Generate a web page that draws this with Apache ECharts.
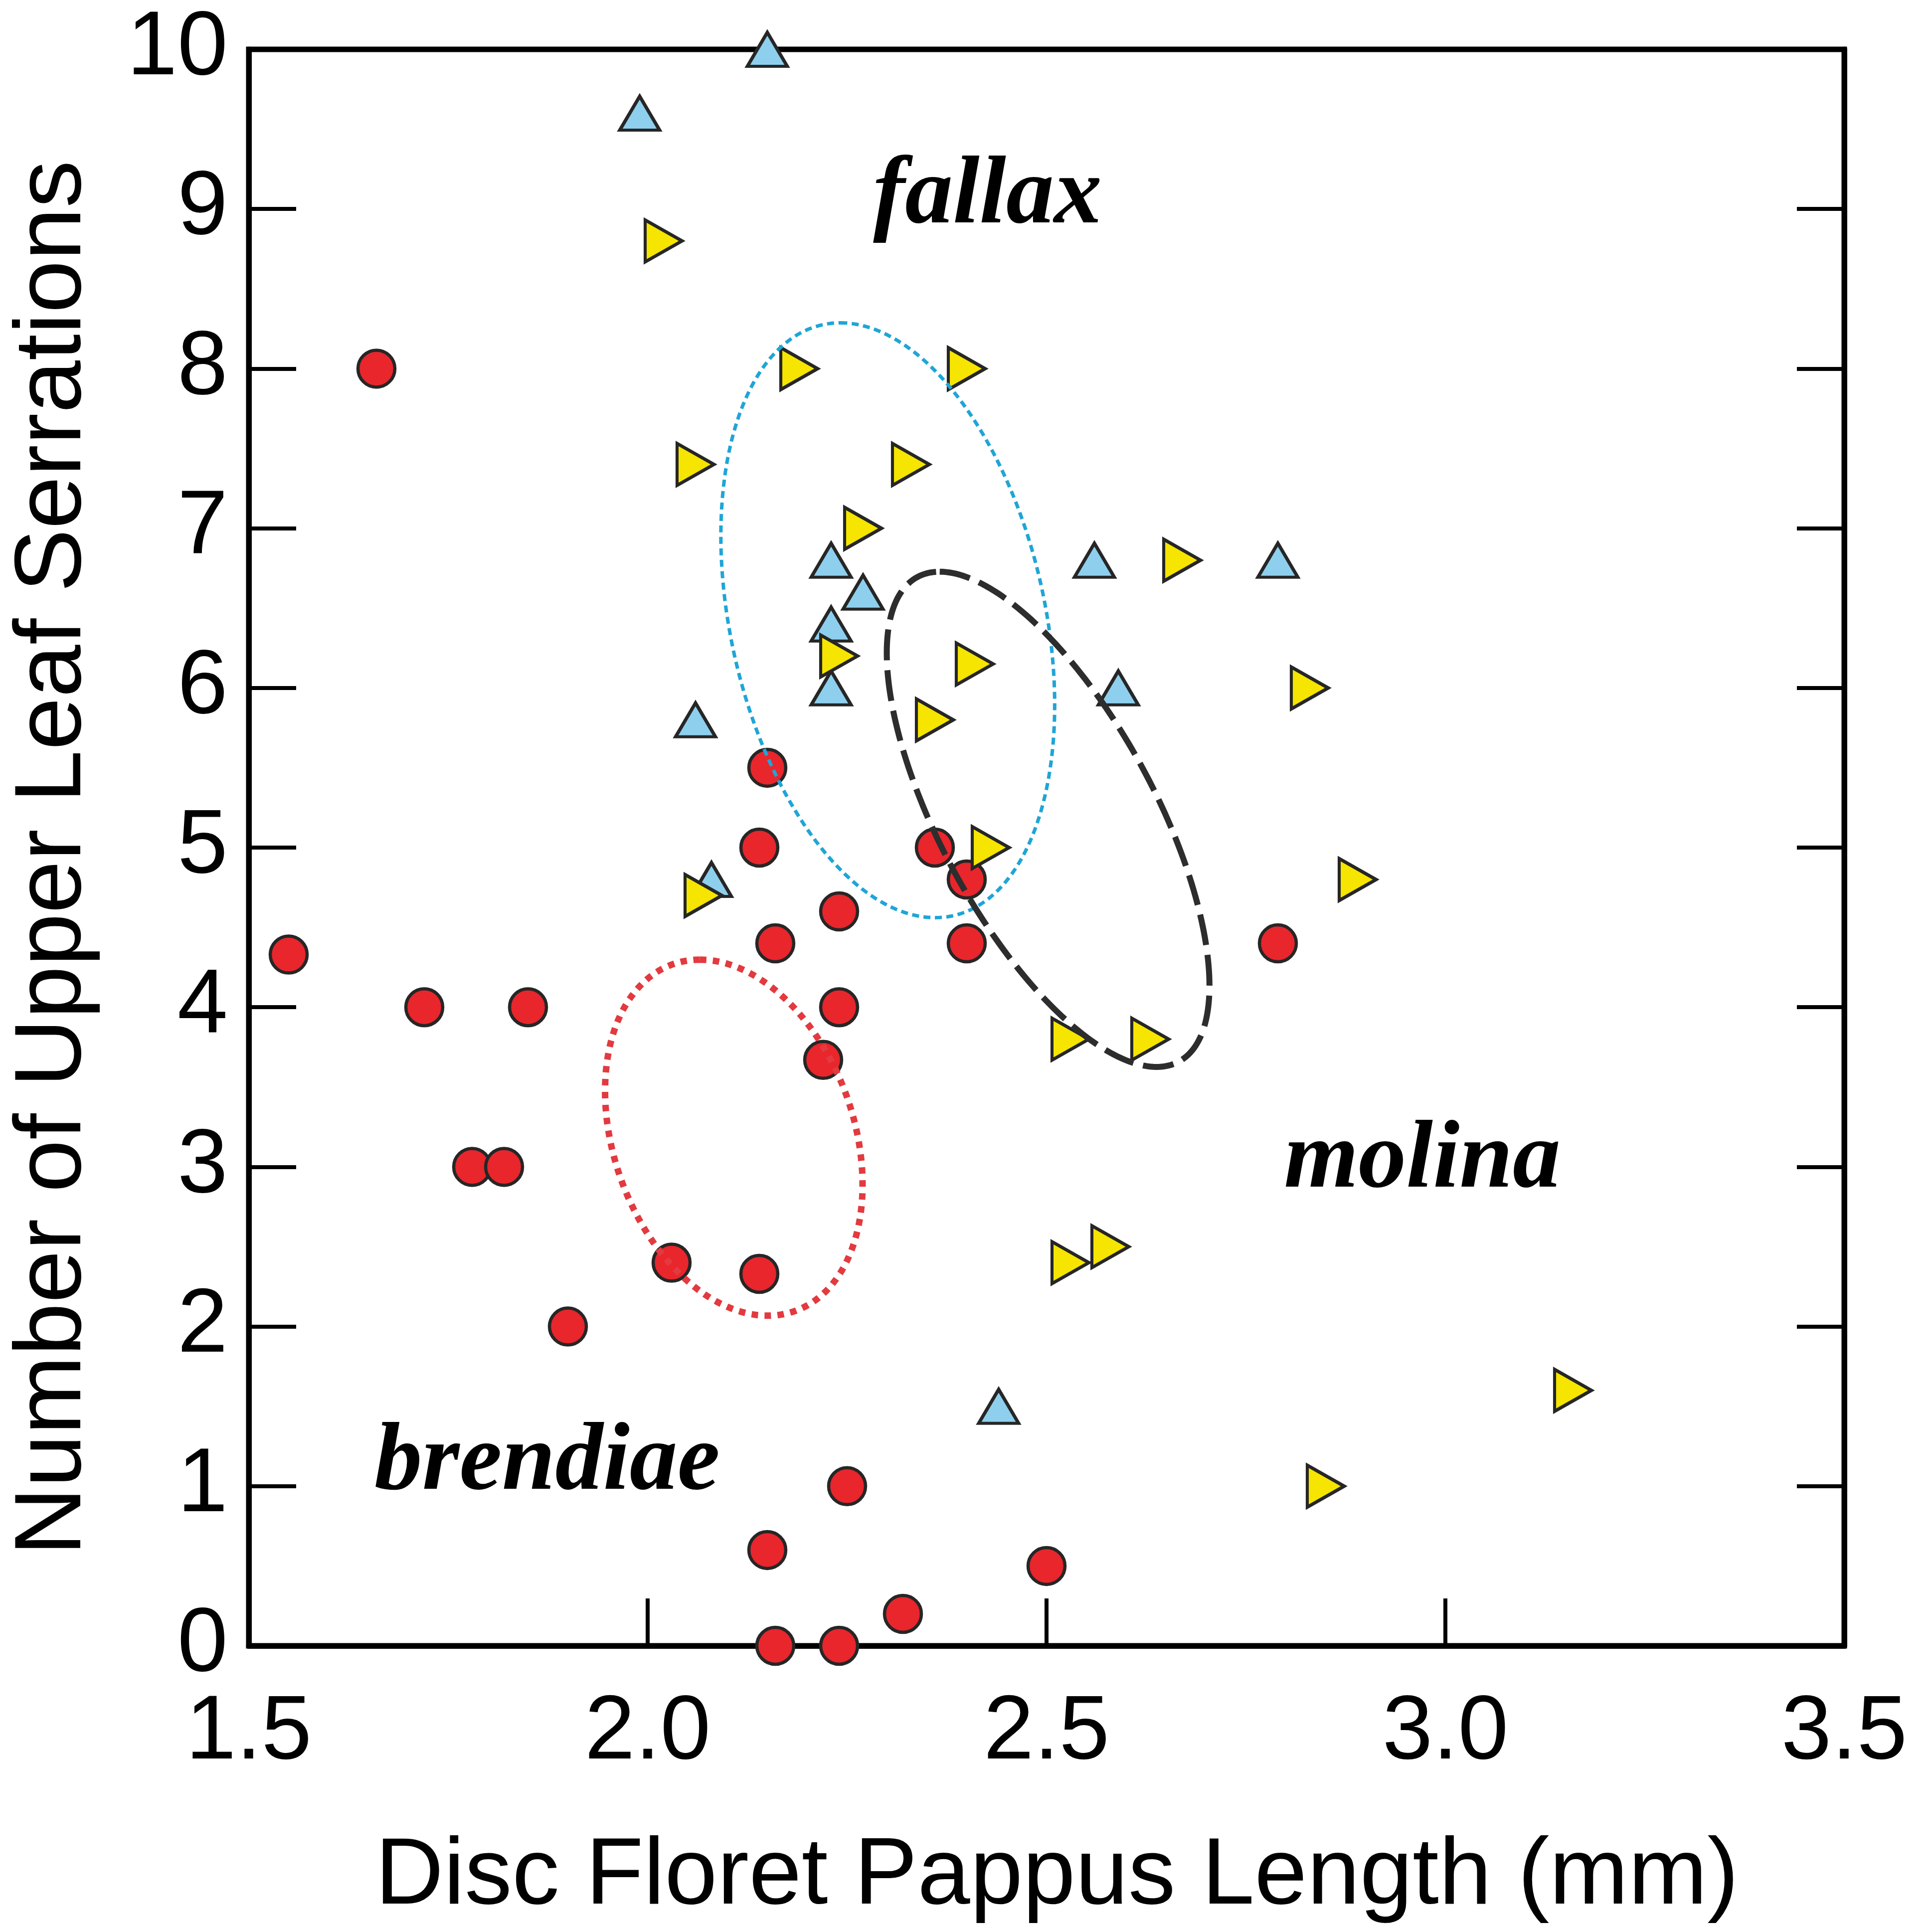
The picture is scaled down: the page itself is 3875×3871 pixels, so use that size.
<!DOCTYPE html>
<html>
<head>
<meta charset="utf-8">
<script src="https://cdn.jsdelivr.net/npm/echarts@6/dist/echarts.min.js"></script>
<style>
  html, body { margin: 0; padding: 0; background: #fff; }
  #chart { width: 3875px; height: 3871px; }
</style>
</head>
<body>
<div id="chart"></div>
<script>
// brendiae (red circles)
const brendiaePoints = [
  [1.66, 8.0], [1.55, 4.33], [1.72, 4.0], [1.85, 4.0], [1.78, 3.0], [1.82, 3.0],
  [1.90, 2.0], [2.03, 2.4], [2.14, 2.33], [2.22, 3.67], [2.24, 4.0], [2.16, 4.4],
  [2.24, 4.6], [2.14, 5.0], [2.15, 5.5], [2.36, 5.0], [2.40, 4.8], [2.40, 4.4],
  [2.79, 4.4], [2.25, 1.0], [2.15, 0.6], [2.50, 0.5], [2.32, 0.2], [2.16, 0.0], [2.24, 0.0]
];
// fallax (blue up triangles)
const fallaxPoints = [
  [2.15, 10.0], [1.99, 9.6], [2.23, 6.8], [2.27, 6.6], [2.23, 6.4], [2.23, 6.0],
  [2.06, 5.8], [2.08, 4.8], [2.56, 6.8], [2.79, 6.8], [2.59, 6.0], [2.44, 1.5]
];
// molina (yellow right triangles)
const molinaPoints = [
  [2.02, 8.8], [2.19, 8.0], [2.40, 8.0], [2.06, 7.4], [2.33, 7.4], [2.27, 7.0],
  [2.24, 6.2], [2.41, 6.15], [2.36, 5.8], [2.67, 6.8], [2.83, 6.0], [2.43, 5.0],
  [2.07, 4.7], [2.89, 4.8], [2.53, 3.8], [2.63, 3.8], [2.53, 2.4], [2.58, 2.5],
  [3.16, 1.6], [2.85, 1.0]
];

// ellipses: centre and two conjugate semi-axes, in data units
const ellipseCenters = [[2.301, 6.424], [2.502, 5.177], [2.108, 3.183]];
const ellipseAxisA = [[-0.0595, 1.863], [-0.1359, 1.551], [-0.0425, 1.115]];
const ellipseAxisB = [[0.2006, 0], [0.1498, 0], [0.1557, 0]];
const ellipseStyles = [
  { stroke: '#1fa5d6', lineWidth: 7, lineDash: [14, 9] },
  { stroke: '#2d2d2d', lineWidth: 12, lineDash: [62, 20] },
  { stroke: '#e23a3f', lineWidth: 13, lineDash: [13, 13] }
];

// taxon names and where they sit
const taxonNames = ['fallax', 'molina', 'brendiae'];
const taxonAnchors = [[2.426, 9.07], [2.971, 3.03], [1.874, 1.14]];

const xTicks = { min: 1.5, max: 3.5, step: 0.5 };
const yTicks = { min: 0, max: 10, step: 1 };

const chart = echarts.init(document.getElementById('chart'), null, { renderer: 'canvas' });

const axisFont = 'Liberation Sans';
const edge = '#262626';

chart.setOption({
  animation: false,
  backgroundColor: '#fff',
  grid: { left: 499, right: 176, top: 99, bottom: 570, show: true, borderColor: '#000', borderWidth: 11 },
  xAxis: {
    type: 'value', min: xTicks.min, max: xTicks.max, interval: xTicks.step,
    name: 'Disc Floret Pappus Length (mm)', nameLocation: 'middle', nameGap: 370,
    nameTextStyle: { fontFamily: axisFont, fontSize: 190, color: '#000', padding: [0, 0, 0, 42] },
    axisLine: { show: true, lineStyle: { color: '#000', width: 11 } },
    axisTick: { show: true, inside: true, length: 95, lineStyle: { color: '#000', width: 8 } },
    axisLabel: { margin: 85, fontFamily: axisFont, fontSize: 182, color: '#000',
      formatter: v => v.toFixed(1) },
    splitLine: { show: false }
  },
  yAxis: [{
    type: 'value', min: yTicks.min, max: yTicks.max, interval: yTicks.step,
    name: 'Number of Upper Leaf Serrations', nameLocation: 'middle', nameGap: 295,
    nameTextStyle: { fontFamily: axisFont, fontSize: 190, color: '#000', padding: [0, 42, 0, 0] },
    axisLine: { show: true, lineStyle: { color: '#000', width: 11 } },
    axisTick: { show: true, inside: true, length: 95, lineStyle: { color: '#000', width: 8 } },
    axisLabel: { margin: 42, fontFamily: axisFont, fontSize: 182, color: '#000' },
    splitLine: { show: false }
  }, {
    type: 'value', position: 'right', min: yTicks.min, max: yTicks.max, interval: yTicks.step,
    axisLine: { show: true, lineStyle: { color: '#000', width: 11 } },
    axisTick: { show: true, inside: true, length: 95, lineStyle: { color: '#000', width: 8 } },
    axisLabel: { show: false },
    splitLine: { show: false }
  }],
  series: [
    {
      name: 'brendiae', type: 'scatter', data: brendiaePoints, z: 3,
      symbol: 'circle', symbolSize: 74,
      itemStyle: { color: '#e8262c', borderColor: edge, borderWidth: 6.5, opacity: 1 }
    },
    {
      name: 'fallax', type: 'scatter', data: fallaxPoints, z: 4,
      symbol: 'triangle', symbolSize: [80, 68],
      itemStyle: { color: '#8ecfee', borderColor: edge, borderWidth: 6.5, opacity: 1 }
    },
    {
      name: 'molina', type: 'scatter', data: molinaPoints, z: 5,
      symbol: 'triangle', symbolSize: [84, 74], symbolRotate: -90,
      itemStyle: { color: '#f5e500', borderColor: edge, borderWidth: 6.5, opacity: 1 }
    },
    {
      name: 'ellipses', type: 'custom', z: 6, silent: true,
      data: ellipseCenters, encode: { x: 0, y: 1 },
      renderItem: function (params, api) {
        const i = params.dataIndex;
        const c = ellipseCenters[i], a = ellipseAxisA[i], b = ellipseAxisB[i];
        const pts = [];
        for (let k = 0; k < 240; k++) {
          const t = k / 240 * Math.PI * 2;
          pts.push(api.coord([
            c[0] + a[0] * Math.cos(t) + b[0] * Math.sin(t),
            c[1] + a[1] * Math.cos(t) + b[1] * Math.sin(t)
          ]));
        }
        const s = ellipseStyles[i];
        return {
          type: 'polygon',
          shape: { points: pts },
          style: { fill: 'none', stroke: s.stroke, lineWidth: s.lineWidth, lineDash: s.lineDash }
        };
      }
    },
    {
      name: 'taxa', type: 'scatter', z: 7, silent: true,
      symbolSize: 0,
      itemStyle: { color: 'transparent', opacity: 1 },
      data: taxonNames.map((n, i) => ({ name: n, value: taxonAnchors[i] })),
      label: {
        show: true, position: 'inside', formatter: '{b}', opacity: 1,
        fontFamily: 'Liberation Serif', fontStyle: 'italic', fontWeight: 'bold',
        fontSize: 192, color: '#000', textBorderWidth: 0
      }
    }
  ]
});
</script>
</body>
</html>
